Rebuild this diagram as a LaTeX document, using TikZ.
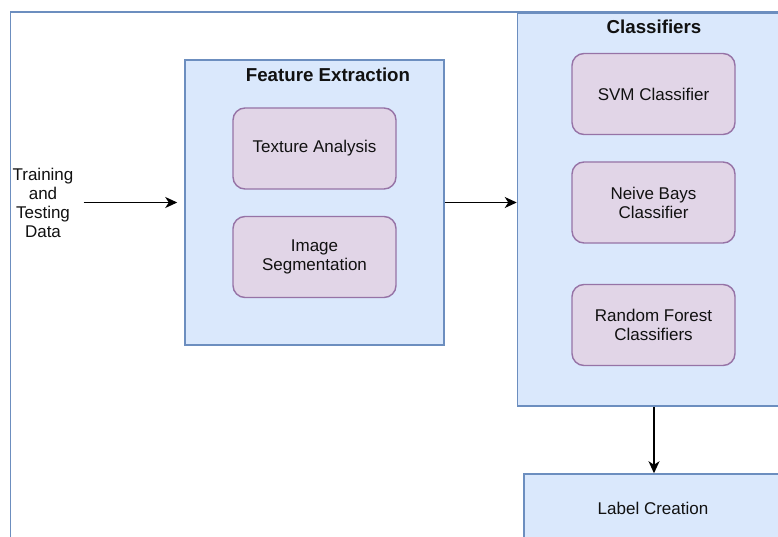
\documentclass[tikz,border=0pt]{standalone}
\usepackage{fontspec}
\setmainfont{Liberation Sans}
\usetikzlibrary{arrows.meta}
\definecolor{bfill}{HTML}{DAE8FC}
\definecolor{bdraw}{HTML}{6C8EBF}
\definecolor{pfill}{HTML}{E1D5E7}
\definecolor{pdraw}{HTML}{9673A6}
\definecolor{txt}{HTML}{111111}
\tikzset{
  container/.style={draw=bdraw, fill=bfill, line width=1.5pt, inner sep=0pt, anchor=center},
  procbox/.style={draw=pdraw, fill=pfill, line width=1.4pt, rounded corners=12pt,
    minimum width=163pt, minimum height=81pt, align=center, inner sep=0pt,
    font=\fontsize{17}{19}\selectfont, text=txt},
  title/.style={font=\fontsize{18.7}{21}\selectfont\bfseries, text=txt, inner sep=0pt},
  plain/.style={font=\fontsize{17}{19}\selectfont, text=txt, align=center, inner sep=0pt},
  flow/.style={line width=1.5pt, -{Stealth[length=12pt,width=11pt,inset=3.5pt]}}
}
\begin{document}
\begin{tikzpicture}[x=1pt,y=-1pt]
\useasboundingbox (0,0) rectangle (778,537);
\clip (0,0) rectangle (778,537);
\fill[white] (0,0) rectangle (778,537);
% outer frame (cropped)
\node[draw=bdraw, line width=1.6pt, minimum width=820pt, minimum height=560pt, inner sep=0pt, anchor=north west] (frame) at (9.5,11.5) {};
% containers
\node[container, minimum width=259pt, minimum height=285pt] (fe) at (314.5,202.5) {};
\node[title] (fetitle) at (328,75) {Feature Extraction};
\node[container, minimum width=273pt, minimum height=393pt] (cl) at (654,209.5) {};
\node[title] (cltitle) at (654,27) {Classifiers};
\node[container, minimum width=258pt, minimum height=68pt] (lab) at (653,508) {};
\node[plain] (labtext) at (653,508) {Label Creation};
% inner boxes
\node[procbox] (tex) at (314.5,148.5) {Texture Analysis};
\node[procbox] (seg) at (314.5,257) {Image\\Segmentation};
\node[procbox] (svm) at (653.5,94) {SVM Classifier};
\node[procbox] (nb) at (653.5,202.5) {Neive Bays\\Classifier};
\node[procbox] (rf) at (653.5,325) {Random Forest\\Classifiers};
% input text
\node[plain] (data) at (43,202.5) {Training\\and\\Testing\\Data};
% connectors
\draw[flow, shorten <=10pt, shorten >=7pt] (data.east |- fe.west) -- (fe.west);
\draw[flow] (fe.east) -- (fe.east -| cl.west);
\draw[flow] (cl.south) -- (cl.south |- lab.north);
\end{tikzpicture}
\end{document}
